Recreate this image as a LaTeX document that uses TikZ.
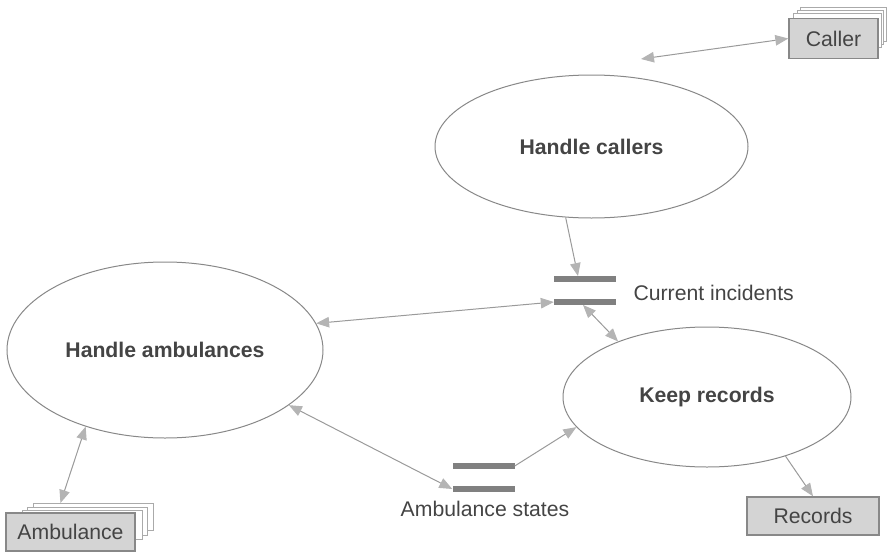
\documentclass[tikz,border=0pt]{standalone}
\usepackage{fontspec}
\setmainfont{Liberation Sans}
\usetikzlibrary{shapes.geometric,arrows.meta}
\definecolor{txt}{HTML}{444444}
\definecolor{outline}{HTML}{888888}
\definecolor{conncol}{HTML}{9A9A9A}
\definecolor{headcol}{HTML}{B4B4B4}
\definecolor{barcol}{HTML}{808080}
\definecolor{boxfill}{HTML}{D4D4D4}
\definecolor{layercol}{HTML}{AAAAAA}
\tikzset{
  process/.style={ellipse, draw=outline, line width=1pt, inner sep=0pt, font=\fontsize{21.2}{25}\selectfont\bfseries},
  storebar/.style={rectangle, fill=barcol, inner sep=0pt, minimum width=62pt, minimum height=5.5pt},
  extbox/.style={rectangle, draw=outline, line width=1.4pt, fill=boxfill, inner sep=0pt},
  layerbox/.style={rectangle, draw=layercol, line width=0.9pt, fill=white, inner sep=0pt, anchor=north west},
  conn/.style={draw=conncol, line width=1pt},
  tip/.tip={Triangle[length=13pt,width=10.5pt,color=headcol]},
  both/.style={conn, tip-tip},
  one/.style={conn, -tip},
}
\begin{document}
\begin{tikzpicture}[x=1pt,y=-1pt,font=\fontsize{21.2}{25}\selectfont,text=txt]
\useasboundingbox (0,0) rectangle (887,552);

% processes
\node[process, minimum width=313pt, minimum height=143pt] (hc) at (591.5,146.5) {Handle callers};
\node[process, minimum width=316pt, minimum height=176pt] (ha) at (165,350) {Handle ambulances};
\node[process, minimum width=288pt, minimum height=140pt] (kr) at (707,397) {Keep records};

% data stores
\node[storebar] (ci1) at (585,279) {};
\node[storebar] (ci2) at (585,302) {};
\node[anchor=west] (cilab) at (630,293) {Current incidents};
\node[storebar] (as1) at (483.5,466) {};
\node[storebar] (as2) at (483.5,489) {};
\node (aslab) at (485,509) {Ambulance states};

% Caller (stacked)
\node[layerbox, minimum width=86pt, minimum height=34pt] (cl3) at (800,7) {};
\node[layerbox, minimum width=86pt, minimum height=34pt] (cl2) at (797,10) {};
\node[layerbox, minimum width=88pt, minimum height=34pt] (cl1) at (793,13) {};
\node[extbox, minimum width=89pt, minimum height=40pt] (caller) at (833.5,38.5) {Caller};

% Ambulance (stacked)
\node[layerbox, minimum width=120pt, minimum height=27pt] (am3) at (33,503) {};
\node[layerbox, minimum width=120pt, minimum height=28pt] (am2) at (27,507) {};
\node[layerbox, minimum width=120pt, minimum height=29pt] (am1) at (22,510) {};
\node[extbox, minimum width=129pt, minimum height=38pt] (amb) at (70.5,532) {Ambulance};

% Records
\node[extbox, minimum width=132pt, minimum height=38pt] (rec) at (813,516) {Records};

% free end near Handle callers
\coordinate (hctop) at (641,59);

% connectors
\draw[both] (caller.west) -- (hctop);
\draw[one] (hc.250) -- ([xshift=-7pt]ci1.north);
\draw[both] (ha.10) -- (ci2.west);
\draw[both] ([xshift=-2pt]ci2.south) -- (kr.148);
\draw[both] (ha.336) -- (as2.west);
\draw[one] (as1.east) -- (kr.193);
\draw[both] (ha.224) -- ([xshift=-33pt]am3.north);
\draw[one] (kr.323) -- (rec.north);
\end{tikzpicture}
\end{document}
